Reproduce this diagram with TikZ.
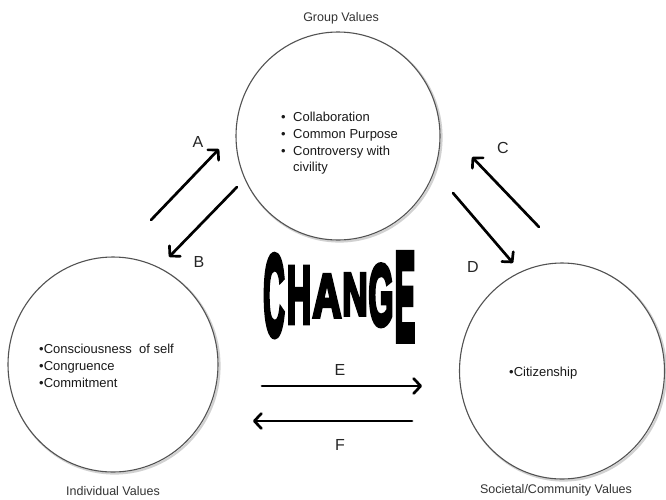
\documentclass[tikz,border=0pt]{standalone}
\usepackage{fontspec}
\setmainfont{Liberation Sans}
\newfontface\heavyface{Liberation Sans Bold}[FakeBold=6]
\newcommand{\bulletitem}{\makebox[12pt][l]{•}}
\usetikzlibrary{arrows.meta,shapes.geometric}
\begin{document}
\begin{tikzpicture}[x=1pt,y=-1pt,
  valring/.style={ellipse,draw=black!68,line width=1.1pt,inner sep=0pt},
  ringshadow/.style={ellipse,draw=black!18,line width=2.2pt,inner sep=0pt},
  flow/.style={line width=2.7pt,line cap=round,-{Straight Barb[length=7pt,width=15pt,line cap=round,line join=round]}},
  flowlabel/.style={font=\fontsize{16}{16}\selectfont,text=black!85,inner sep=0pt},
  ringlabel/.style={font=\fontsize{12.5}{14}\selectfont,text=black!80,inner sep=0pt},
  ringtext/.style={font=\fontsize{13}{16.7}\selectfont,text=black!90,align=left,inner sep=0pt},
  bigletter/.style={font=\fontsize{40}{40}\heavyface,inner sep=0pt,anchor=base,transform shape}]
\useasboundingbox[fill=white] (0,0) rectangle (666,499);

% shadows
\node[ringshadow,minimum width=204pt,minimum height=208pt] (gshadow) at (339.5,137.5) {};
\node[ringshadow,minimum width=210pt,minimum height=215pt] (ishadow) at (114.5,366) {};
\node[ringshadow,minimum width=205pt,minimum height=216pt] (sshadow) at (563.5,372.5) {};

% circles
\node[valring,fill=white,minimum width=204pt,minimum height=208pt] (group) at (338,136) {};
\node[valring,fill=white,minimum width=210pt,minimum height=215pt] (indiv) at (113,364.5) {};
\node[valring,fill=white,minimum width=205pt,minimum height=216pt] (soc) at (562,371) {};

% titles
\node[ringlabel] (gtitle) at (341,18) {Group Values};
\node[ringlabel] (ititle) at (113,491) {Individual Values};
\node[ringlabel] (stitle) at (556,490) {Societal/Community Values};

% contents
\node[ringtext,anchor=north west] (glist) at (281,112)
  {\bulletitem Collaboration\\\bulletitem Common Purpose\\\bulletitem Controversy with\\\hphantom{\bulletitem}civility};
\node[ringtext,anchor=north west] (ilist) at (39,344)
  {•Consciousness\ \ of self\\•Congruence\\•Commitment};
\node[ringtext,anchor=north west] (slist) at (509,367) {•Citizenship};

% arrow end points
\coordinate (a1) at (151,220); \coordinate (a2) at (219,149);
\coordinate (b1) at (237,187); \coordinate (b2) at (169,257);
\coordinate (c1) at (539,227); \coordinate (c2) at (472,157);
\coordinate (d1) at (453,193); \coordinate (d2) at (513,263);
\coordinate (e1) at (262,386); \coordinate (e2) at (422,386);
\coordinate (f1) at (412,421); \coordinate (f2) at (253,421);

\draw[flow] (a1) -- (a2);
\draw[flow] (b1) -- (b2);
\draw[flow] (c1) -- (c2);
\draw[flow] (d1) -- (d2);
\draw[flow] (e1) -- (e2);
\draw[flow] (f1) -- (f2);

\node[flowlabel] (la) at (198,142) {A};
\node[flowlabel] (lb) at (199,262) {B};
\node[flowlabel] (lc) at (503,148) {C};
\node[flowlabel] (ld) at (473,267) {D};
\node[flowlabel] (le) at (340,370) {E};
\node[flowlabel] (lf) at (340,445) {F};

% CHANGE
\node[bigletter,xscale=0.74,yscale=2.86] (chc) at (274,335) {C};
\node[bigletter,xscale=0.84,yscale=2.03] (chh) at (299,323) {H};
\node[bigletter,xscale=1.0,yscale=1.54] (cha) at (327,317) {A};
\node[bigletter,xscale=0.88,yscale=1.50] (chn) at (355,315) {N};
\node[bigletter,xscale=0.80,yscale=2.16] (chg) at (381,325) {G};
\node[bigletter,xscale=0.76,yscale=3.14] (che) at (405,340) {E};
\end{tikzpicture}
\end{document}
